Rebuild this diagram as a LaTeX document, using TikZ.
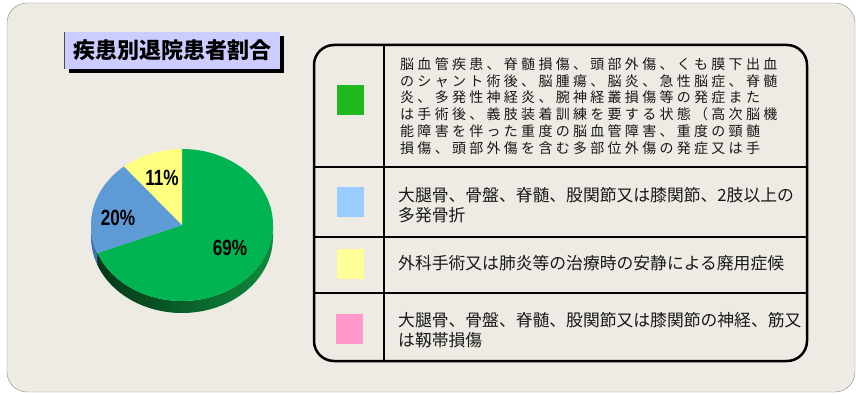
\documentclass[tikz,border=0pt]{standalone}
\usepackage{fontspec}
\setmainfont{Noto Sans CJK JP}
\newfontfamily\jpfont{Noto Sans CJK JP}
\newfontfamily\jpwide[LetterSpace=23.5]{Noto Sans CJK JP}
\newfontfamily\pctfont[FakeStretch=0.78]{Liberation Sans}
\usepackage{tikz}
\usetikzlibrary{shadows}
\usetikzlibrary{calc}
\definecolor{panelbg}{HTML}{EDEBE3}
\definecolor{panelline}{HTML}{8E8C84}
\definecolor{titlefill}{HTML}{CCCCFF}
\definecolor{piegreen}{HTML}{00B451}
\definecolor{pieblue}{HTML}{5E9BD6}
\definecolor{pieyellow}{HTML}{FFFF80}
\definecolor{sidegreen}{HTML}{0E8A3C}
\definecolor{sideblue}{HTML}{3F74B0}
\definecolor{keygreen}{HTML}{1DB91D}
\definecolor{keyblue}{HTML}{99CCFF}
\definecolor{keyyellow}{HTML}{FFFF99}
\definecolor{keypink}{HTML}{FF99CC}
\tikzstyle{titlebox}=[fill=titlefill,minimum width=215pt,minimum height=37pt,inner sep=0pt,
  font=\jpfont\bfseries\fontsize{22}{22}\selectfont,
  drop shadow={shadow xshift=4pt,shadow yshift=-4pt,fill=black,opacity=1}]
\tikzstyle{swatch}=[minimum width=27pt,minimum height=30pt,inner sep=0pt]
\tikzstyle{pct}=[inner sep=0pt,font=\pctfont\bfseries\fontsize{22}{22}\selectfont]
\tikzstyle{keytext}=[anchor=west,align=left,inner sep=0pt,text=black!90,
  font=\jpfont\fontsize{16.8}{20}\selectfont]
\tikzstyle{divider} = [draw,line width=2.5pt]

\begin{document}
\begin{tikzpicture}[x=1pt,y=1pt]
    \useasboundingbox (0,0) rectangle (856,394);
    \fill[white] (0,0) rectangle (856,394);
    \draw[panelline,fill=panelbg,rounded corners=20pt] (7,2) rectangle (855,391);

    % title
    \node[titlebox] (title) at (172.5,343.5) {疾患別退院患者割合};
    \draw[black!70,line width=1pt] (title.north west) -- (title.south west);

    % pie: side first, then slices
    \coordinate (c) at (182,169);
    \shade[left color=sidegreen!40!black,right color=sidegreen]
        ([shift={(201.6:91 and 76)}]c) arc[start angle=201.6,end angle=360,x radius=91,y radius=76]
        -- ++(0,-12) arc[start angle=360,end angle=201.6,x radius=91,y radius=76] -- cycle;
    \fill[sideblue]
        ([shift={(180:91 and 76)}]c) arc[start angle=180,end angle=201.6,x radius=91,y radius=76]
        -- ++(0,-12) arc[start angle=201.6,end angle=180,x radius=91,y radius=76] -- cycle;
    \foreach \a/ \b/ \col in {90/-158.4/piegreen, 201.6/129.6/pieblue, 129.6/90/pieyellow}
        \fill[\col] (c) -- ([shift={(\a:91 and 76)}]c)
            arc[start angle=\a,end angle=\b,x radius=91,y radius=76] -- cycle;

    \foreach \pos/ \name/ \val in {{(162,216)/p11/11}, {(118,176)/p20/20}, {(230,146)/p69/69}}
        \node[pct] (\name) at \pos {\val\%};

    % legend table
    \path[divider] (384,33) -- (384,349);
    \foreach \y in {227,157,101}
        \path[divider] (314,\y) -- (807,\y);
    \draw[line width=2.5pt,rounded corners=20pt] (314,33) rectangle (807,349);

    \foreach \pos/ \name/ \col in {{(350.5,293.5)/sq1/keygreen}, {(350.5,192)/sq2/keyblue},
                                   {(350.5,130)/sq3/keyyellow}, {(349,65.5)/sq4/keypink}}
        \node[swatch,fill=\col] (\name) at \pos {};

    \node[keytext,font=\jpwide\fontsize{14}{16.7}\selectfont] (t1) at (400,288)
        {脳血管疾患、脊髄損傷、頭部外傷、くも膜下出血\\
         のシャント術後、脳腫瘍、脳炎、急性脳症、脊髄\\
         炎、多発性神経炎、腕神経叢損傷等の発症また\\
         は手術後、義肢装着訓練を要する状態（高次脳機\\
         能障害を伴った重度の脳血管障害、重度の頸髄\\
         損傷、頭部外傷を含む多部位外傷の発症又は手};
    \node[keytext] (t2) at (398,188.5)
        {大腿骨、骨盤、脊髄、股関節又は膝関節、2肢以上の\\多発骨折};
    \node[keytext] (t3) at (398,130.5) {外科手術又は肺炎等の治療時の安静による廃用症候};
    \node[keytext] (t4) at (398,64)
        {大腿骨、骨盤、脊髄、股関節又は膝関節の神経、筋又\\は靱帯損傷};
\end{tikzpicture}
\end{document}
